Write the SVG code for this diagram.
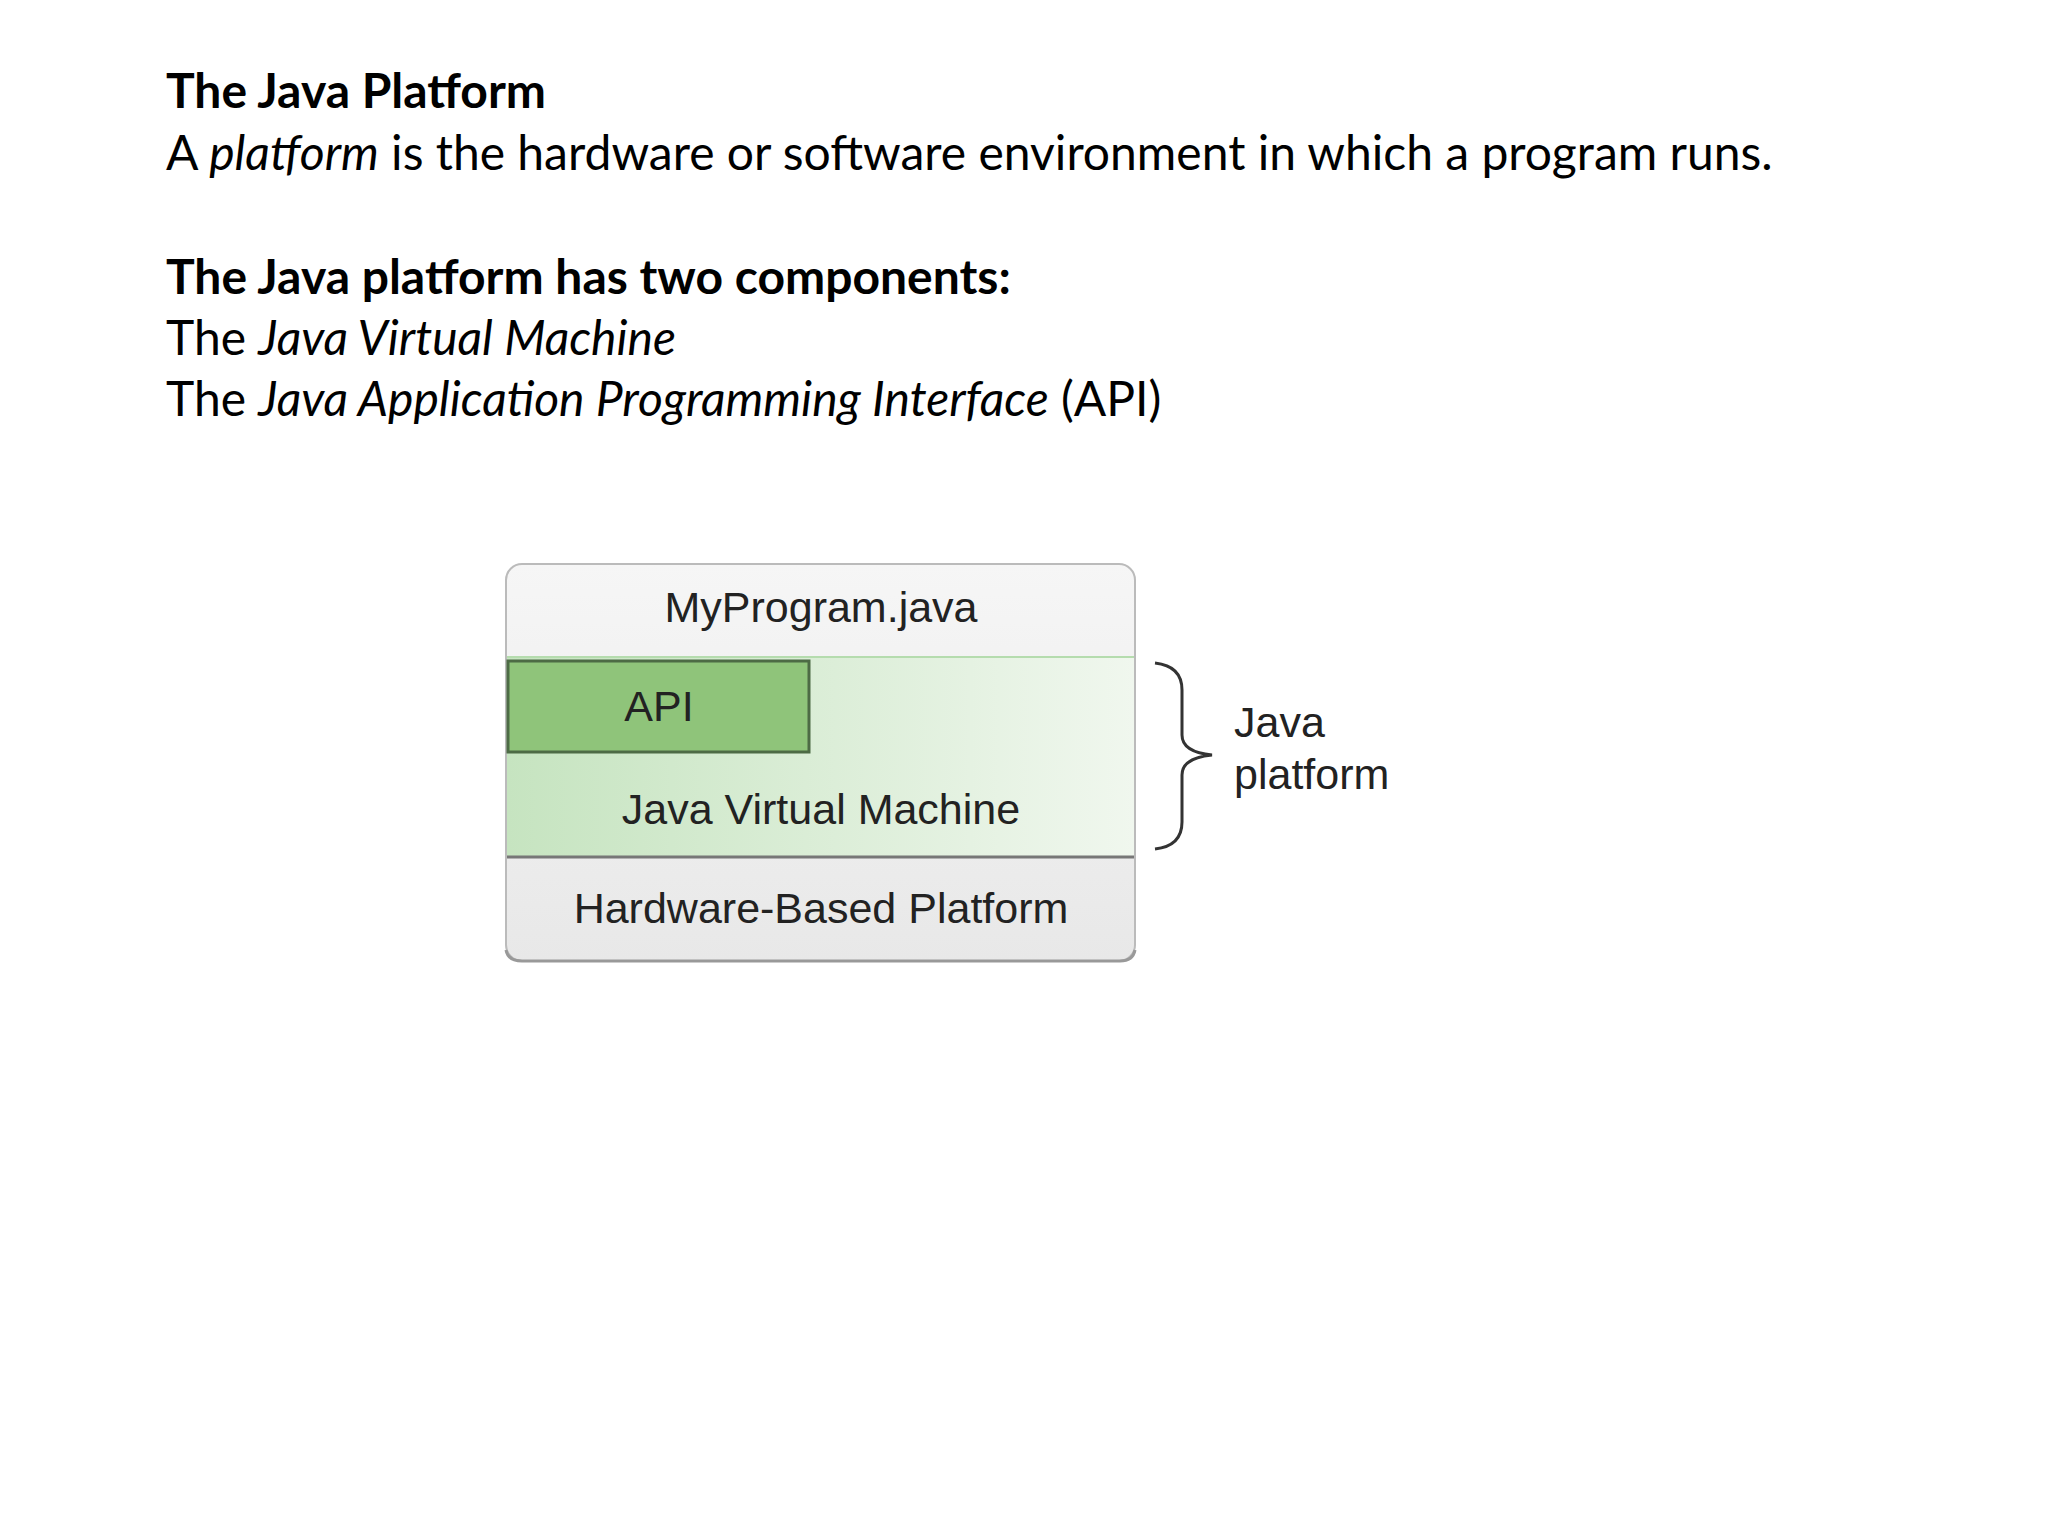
<svg xmlns="http://www.w3.org/2000/svg" width="2048" height="1536" viewBox="0 0 2048 1536">
<style>
.h{font-family:Lato,"Liberation Sans",sans-serif;font-size:48px;fill:#000}
.b{font-weight:bold}
.i{font-style:italic}
.d{font-family:"Liberation Sans",Arial,sans-serif;font-size:43px;fill:#222;text-anchor:middle}
</style>
<defs>
<linearGradient id="jg" x1="0" y1="0" x2="1" y2="0">
<stop offset="0" stop-color="#c6e4c0"/><stop offset="1" stop-color="#f0f7ee"/>
</linearGradient>
<linearGradient id="gg" x1="0" y1="0" x2="0" y2="1">
<stop offset="0" stop-color="#f6f6f6"/><stop offset="1" stop-color="#e8e8e8"/>
</linearGradient>
</defs>
<rect width="2048" height="1536" fill="#fff"/>
<g id="text">
<text class="h b" x="166" y="108">The Java Platform</text>
<text class="h" x="166" y="170">A <tspan class="i">platform</tspan> is the hardware or software environment in which a program runs.</text>
<text class="h b" x="166" y="294">The Java platform has two components:</text>
<text class="h" x="166" y="355">The <tspan class="i">Java Virtual Machine</tspan></text>
<text class="h" x="166" y="416">The <tspan class="i">Java Application Programming Interface</tspan> (API)</text>
</g>
<g id="stack">
<rect x="506" y="564" width="629" height="397" rx="16" fill="url(#gg)" stroke="#bbb" stroke-width="2"/>
<path d="M506 950 Q508 961 522 961 L1120 961 Q1133 961 1135 950" fill="none" stroke="#999" stroke-width="3"/>
</g>
<g id="jvm">
<rect x="507" y="657" width="627" height="200" fill="url(#jg)"/>
<line x1="507" y1="657" x2="1134" y2="657" stroke="#b5dcae" stroke-width="2"/>
<line x1="507" y1="857" x2="1134" y2="857" stroke="#777" stroke-width="3"/>
<text class="d" x="821" y="824">Java Virtual Machine</text>
</g>
<g id="api">
<rect x="508" y="661" width="301" height="91" fill="#8fc47a" stroke="#4d6b45" stroke-width="3"/>
<text class="d" x="659" y="721">API</text>
</g>
<g id="myprogram"><text class="d" x="821" y="622">MyProgram.java</text></g>
<g id="hardware"><text class="d" x="821" y="923">Hardware-Based Platform</text></g>
<g id="brace">
<path d="M1155 663 Q1182 666 1182 690 L1182 735 Q1182 752 1212 755 Q1182 758 1182 775 L1182 822 Q1182 846 1155 849" fill="none" stroke="#333" stroke-width="3"/>
<text class="d" x="1234" y="737" style="text-anchor:start">Java</text>
<text class="d" x="1234" y="789" style="text-anchor:start">platform</text>
</g>
</svg>
